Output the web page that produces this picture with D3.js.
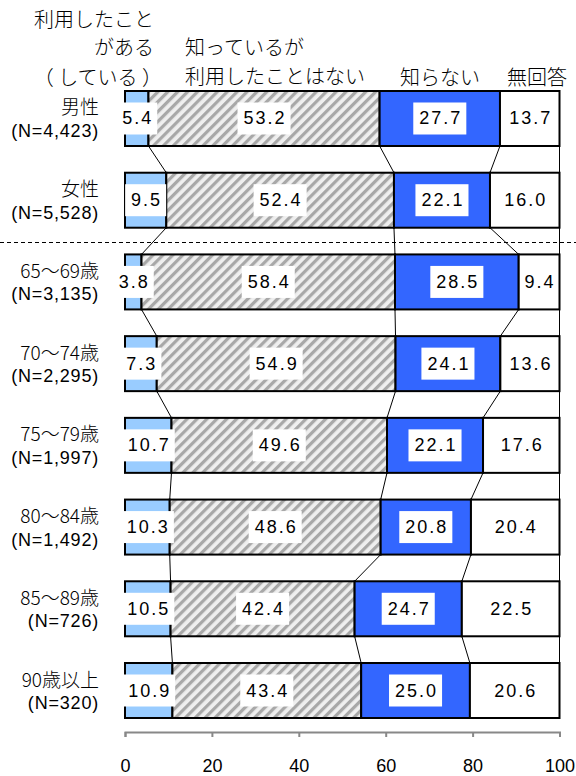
<!DOCTYPE html>
<html><head><meta charset="utf-8">
<script src="https://cdn.jsdelivr.net/npm/d3@7"></script>
<style>body{margin:0;background:#fff}</style>
</head><body>
<svg id="c" width="576" height="776"></svg>
<script>
const categories = ["男性","女性","65～69歳","70～74歳","75～79歳","80～84歳","85～89歳","90歳以上"];
const nLabels = ["(N=4,423)","(N=5,528)","(N=3,135)","(N=2,295)","(N=1,997)","(N=1,492)","(N=726)","(N=320)"];
const used    = [5.4, 9.5, 3.8, 7.3, 10.7, 10.3, 10.5, 10.9];
const notUsed = [53.2, 52.4, 58.4, 54.9, 49.6, 48.6, 42.4, 43.4];
const unknown = [27.7, 22.1, 28.5, 24.1, 22.1, 20.8, 24.7, 25.0];
const noAns   = [13.7, 16.0, 9.4, 13.6, 17.6, 20.4, 22.5, 20.6];
const seriesNames = ["used","notUsed","unknown","noAns"];
const tickValues = [0,20,40,60,80,100];

const svg = d3.select("#c");
const x = d3.scaleLinear().domain([0,100]).range([125,559.5]);
const y = d3.scaleBand().domain(categories).range([91,718]).paddingInner(0.327).paddingOuter(0);

const defs = svg.append("defs");
const pat = defs.append("pattern").attr("id","hatch").attr("patternUnits","userSpaceOnUse")
  .attr("width",7).attr("height",7).attr("patternTransform","rotate(45)");
pat.append("rect").attr("width",7).attr("height",7).attr("fill","#efefef");
pat.append("rect").attr("x",0).attr("width",3.2).attr("height",7).attr("fill","#a8a8a8");

const fills = {used:"#99ccff", notUsed:"url(#hatch)", unknown:"#3366ff", noAns:"#ffffff"};

const rows = categories.map((c,i)=>{
  const vals = [used[i],notUsed[i],unknown[i],noAns[i]];
  const tot = d3.sum(vals);
  let cum = 0;
  const segs = vals.map((v,j)=>{ const s={cat:c,key:seriesNames[j],v,x0:cum/tot*100,x1:(cum+v)/tot*100}; cum+=v; return s;});
  return {cat:c, segs};
});

const conn = svg.append("g");
for(let i=0;i<rows.length-1;i++){
  const a=rows[i], b=rows[i+1];
  for(let j=0;j<4;j++){
    conn.append("line")
      .attr("x1",x(a.segs[j].x1)).attr("y1",y(a.cat)+y.bandwidth())
      .attr("x2",x(b.segs[j].x1)).attr("y2",y(b.cat))
      .attr("stroke","#000").attr("stroke-width",1);
  }
}

svg.append("line").attr("x1",0).attr("x2",576).attr("y1",242.5).attr("y2",242.5)
  .attr("stroke","#000").attr("stroke-width",1).attr("stroke-dasharray","4,3");

const bars = svg.append("g");
rows.forEach(r=>{
  r.segs.forEach(s=>{
    bars.append("rect").attr("x",x(s.x0)).attr("y",y(r.cat))
      .attr("width",x(s.x1)-x(s.x0)).attr("height",y.bandwidth())
      .attr("fill",fills[s.key]).attr("stroke","#000").attr("stroke-width",2);
  });
});

const lab = svg.append("g").style("font-family","'Liberation Sans', Arial, sans-serif").style("font-size","18px").style("letter-spacing","2px");
rows.forEach(r=>{
  r.segs.forEach(s=>{
    const cx = (x(s.x0)+x(s.x1))/2 + 1, cy = y(r.cat)+y.bandwidth()/2;
    const g = lab.append("g");
    const t = g.append("text").attr("x",cx).attr("y",cy).attr("text-anchor","middle")
      .attr("dominant-baseline","central").text(s.v.toFixed(1));
    const bb = t.node().getBBox();
    if(s.key!=="noAns"){
      g.insert("rect","text").attr("x",bb.x-6).attr("y",cy-16).attr("width",bb.width+10).attr("height",32).attr("fill","#fff");
    }
  });
});

const cl = svg.append("g").attr("fill","#000");
categories.forEach((c,i)=>{
  const cy = y(c)+y.bandwidth()/2;
  cl.append("text").attr("x",99).attr("y",cy-12.5).attr("text-anchor","end").attr("dominant-baseline","central")
    .style("font-family","'Noto Sans CJK JP', sans-serif").style("font-size","19px").style("font-weight","300").text(c);
  cl.append("text").attr("x",99).attr("y",cy+12.5).attr("text-anchor","end").attr("dominant-baseline","central")
    .style("font-family","'Liberation Sans', Arial, sans-serif").style("font-size","18px").style("letter-spacing","0.8px").text(nLabels[i]);
});

const hd = svg.append("g").style("font-family","'Noto Sans CJK JP', sans-serif").style("font-size","20px").style("font-weight","300").attr("fill","#000");
const headers = [
  {t:"利用したこと", x:154, y:18, a:"end"},
  {t:"がある", x:154, y:46, a:"end"},
  {t:"（ している ）", x:162, y:76, a:"end"},
  {t:"知っているが", x:185, y:46, a:"start"},
  {t:"利用したことはない", x:185, y:75, a:"start"},
  {t:"知らない", x:400, y:76, a:"start"},
  {t:"無回答", x:507, y:76, a:"start"}
];
headers.forEach(h=>hd.append("text").attr("x",h.x).attr("y",h.y).attr("text-anchor",h.a).attr("dominant-baseline","central").text(h.t));

const ax = svg.append("g").attr("transform","translate(0,732)")
  .call(d3.axisBottom(x).tickValues(tickValues).tickSize(5).tickSizeOuter(5).tickPadding(22).tickFormat(d3.format("d")));
ax.select(".domain").attr("stroke","#888").attr("stroke-width",2);
ax.selectAll(".tick line").attr("stroke","#888").attr("stroke-width",2);
ax.selectAll(".tick text").style("font-family","'Liberation Sans', Arial, sans-serif").style("font-size","18px").attr("fill","#000");
</script>
</body></html>
